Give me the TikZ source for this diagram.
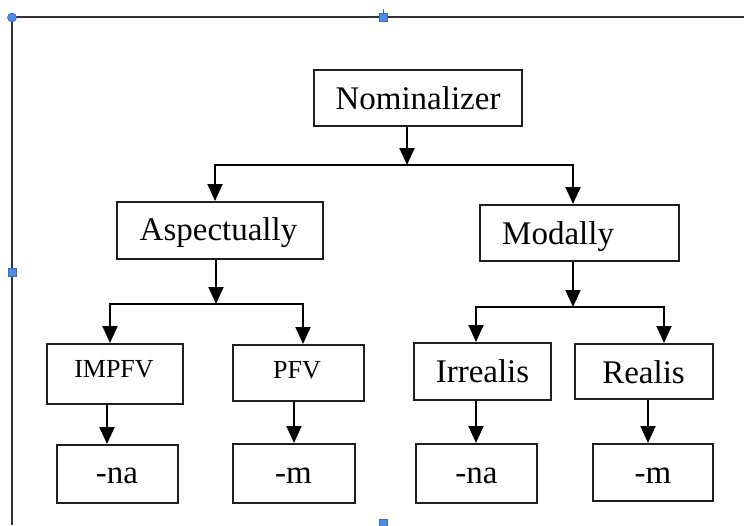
\documentclass[tikz,border=0pt]{standalone}
\usepackage{fontspec}
\setmainfont{Liberation Serif}
\usetikzlibrary{arrows.meta}
\definecolor{framegray}{HTML}{333333}
\definecolor{handlefill}{HTML}{4F8BE0}
\definecolor{handleedge}{HTML}{3A6CC0}
\begin{document}
\begin{tikzpicture}[x=1pt,y=-1pt,
  box/.style={draw=black!88,line width=2pt,inner sep=0pt},
  lbl/.style={anchor=base,inner sep=0pt,font=\fontsize{33}{40}\selectfont},
  lblsm/.style={anchor=base,inner sep=0pt,font=\fontsize{26}{31}\selectfont},
  arr/.style={line width=1.9pt,-{Triangle[width=15pt,length=17pt]}},
  frameline/.style={draw=framegray,line width=2.2pt},
  handle/.style={fill=handlefill,draw=handleedge,line width=0.6pt}]
\useasboundingbox (0,0) rectangle (744,525);

% page frame and selection handles
\draw[frameline] (12,525) -- (12,17) -- (744,17);
\draw[handleedge,line width=0.8pt] (383,9) -- (383,13);
\filldraw[handle] (12,17.5) circle (4.5);
\filldraw[handle] (379,13) rectangle (387,21);
\filldraw[handle] (8,268) rectangle (16,276);
\filldraw[handle] (379,519) rectangle (387,527);

% boxes
\node[box,minimum width=208pt,minimum height=56pt] (nom) at (418,98) {};
\node[box,minimum width=206pt,minimum height=57pt] (asp) at (220,230.5) {};
\node[box,minimum width=199pt,minimum height=56pt] (mod) at (579.5,233) {};
\node[box,minimum width=136pt,minimum height=60pt] (impfv) at (115,374) {};
\node[box,minimum width=131pt,minimum height=56pt] (pfv) at (298.5,373) {};
\node[box,minimum width=137pt,minimum height=57pt] (irr) at (482.5,371.5) {};
\node[box,minimum width=138pt,minimum height=55pt] (real) at (644,371.5) {};
\node[box,minimum width=121pt,minimum height=58pt] (naA) at (117.5,474) {};
\node[box,minimum width=122pt,minimum height=59pt] (mA) at (294,473.5) {};
\node[box,minimum width=121pt,minimum height=59pt] (naB) at (476.5,473.5) {};
\node[box,minimum width=120pt,minimum height=57pt] (mB) at (653,472.5) {};

% labels
\node[lbl] (nomt) at (418,109) {Nominalizer};
\node[lbl] (aspt) at (218.5,240) {Aspectually};
\node[lbl,anchor=base west] (modt) at (502,244) {Modally};
\node[lblsm] (impfvt) at (114,377) {IMPFV};
\node[lblsm] (pfvt) at (297,378) {PFV};
\node[lbl] (irrt) at (482.5,382) {Irrealis};
\node[lbl] (realt) at (643.5,383) {Realis};
\node[lbl] (naAt) at (117,483) {-na};
\node[lbl] (mAt) at (293.5,483) {-m};
\node[lbl] (naBt) at (476.5,483) {-na};
\node[lbl] (mBt) at (653,483) {-m};

% branch points and stem positions
\coordinate (b0) at (407,165);
\coordinate (b0l) at (215,165);
\coordinate (b0r) at (573,165);
\coordinate (b1) at (216,304);
\coordinate (b1l) at (110,304);
\coordinate (b1r) at (303,304);
\coordinate (b2) at (573,307);
\coordinate (b2l) at (476,307);
\coordinate (b2r) at (664,307);
\coordinate (s1) at (107,0);
\coordinate (s2) at (294,0);
\coordinate (s3) at (476,0);
\coordinate (s4) at (648,0);

% first level
\draw[arr] (b0 |- nom.south) -- (b0);
\draw[arr] (b0) -| (b0l |- asp.north);
\draw[arr] (b0) -| (b0r |- mod.north);

% second level
\draw[arr] (b1 |- asp.south) -- (b1);
\draw[arr] (b1) -| (b1l |- impfv.north);
\draw[arr] (b1) -| (b1r |- pfv.north);
\draw[arr] (b2 |- mod.south) -- (b2);
\draw[arr] (b2) -| (b2l |- irr.north);
\draw[arr] (b2) -| (b2r |- real.north);

% suffixes
\draw[arr] (s1 |- impfv.south) -- (s1 |- naA.north);
\draw[arr] (s2 |- pfv.south) -- (s2 |- mA.north);
\draw[arr] (s3 |- irr.south) -- (s3 |- naB.north);
\draw[arr] (s4 |- real.south) -- (s4 |- mB.north);
\end{tikzpicture}
\end{document}
